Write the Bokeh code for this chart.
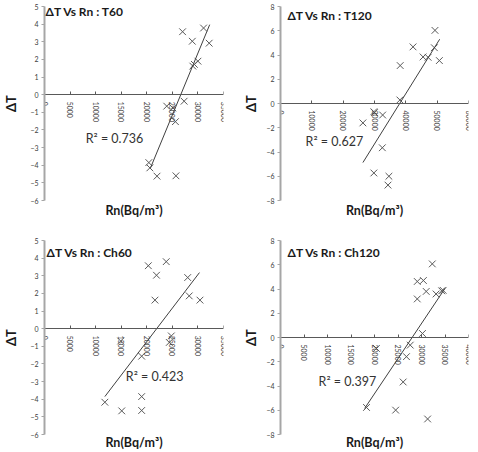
from bokeh.plotting import figure
from bokeh.layouts import column, row
from bokeh.models import Range1d, SingleIntervalTicker, FixedTicker, Label, LinearAxis
from bokeh.embed import file_html
from bokeh.resources import INLINE

# ---------------- data ----------------
t60_rn = [27000, 31100, 28900, 32200, 30000, 29000, 29300, 23900, 27300, 25100, 25600, 20400, 20600, 22000, 25700]
t60_dt = [3.57, 3.78, 3.03, 2.92, 1.90, 1.62, 1.72, -0.65, -0.37, -0.75, -1.53, -3.85, -4.15, -4.62, -4.60]
t60_trend_rn = [20700, 32300]
t60_trend_dt = [-4.17, 3.97]
t60_r2 = "R² = 0.736"

t120_rn = [49300, 42300, 49100, 45500, 47100, 50700, 38200, 38100, 29800, 30000, 32600, 26300, 32500, 29800, 34600, 34300]
t120_dt = [6.03, 4.67, 4.60, 3.84, 3.81, 3.54, 3.13, 0.29, -0.68, -0.75, -0.95, -1.60, -3.65, -5.73, -6.00, -6.73]
t120_trend_rn = [26300, 50800]
t120_trend_dt = [-4.87, 5.30]
t120_r2 = "R² = 0.627"

ch60_rn = [20300, 23800, 21900, 28000, 28300, 30400, 21600, 24400, 24800, 14900, 19000, 11800, 19000, 15100, 19000]
ch60_dt = [3.57, 3.80, 3.03, 2.90, 1.86, 1.62, 1.62, -0.78, -0.41, -0.70, -1.56, -4.17, -3.85, -4.66, -4.64]
ch60_trend_rn = [11800, 30300]
ch60_trend_dt = [-3.85, 3.18]
ch60_r2 = "R² = 0.423"

ch120_rn = [32300, 29100, 30400, 31000, 29100, 33100, 34600, 34300, 30200, 20400, 27600, 26800, 26100, 18300, 24500, 31300]
ch120_dt = [6.07, 4.62, 4.70, 3.80, 3.18, 3.59, 3.89, 3.85, 0.33, -0.90, -0.63, -1.58, -3.67, -5.77, -5.99, -6.72]
ch120_trend_rn = [17900, 35000]
ch120_trend_dt = [-5.85, 4.05]
ch120_r2 = "R² = 0.397"

titles = ["ΔT Vs Rn : T60", "ΔT Vs Rn : T120", "ΔT Vs Rn : Ch60", "ΔT Vs Rn : Ch120"]
x_label = "Rn(Bq/m³)"
y_label = "ΔT"

FONT = "Lato"
TICK_COL = "#404040"


def panel(rn, dt, trn, tdt, r2, title, xmax, xstep, ymin, ymax, ystep,
          width, height, bl, br, bt, bb, title_pos, r2_pos, ylab_standoff, xlab_standoff):
    p = figure(width=width, height=height,
               x_range=Range1d(0, xmax), y_range=Range1d(ymin, ymax),
               output_backend="svg", toolbar_location=None,
               min_border_left=bl, min_border_right=br,
               min_border_top=bt, min_border_bottom=bb)
    p.grid.visible = False
    p.outline_line_color = None
    p.background_fill_color = "white"
    p.border_fill_color = "white"

    # x axis crossing at y = 0
    xa = p.xaxis[0]
    xa.fixed_location = 0
    xa.ticker = SingleIntervalTicker(interval=xstep)
    xa.axis_line_color = "#595959"
    xa.axis_line_width = 1
    xa.major_tick_in = 3
    xa.major_tick_out = 0
    xa.major_tick_line_color = "#595959"
    xa.minor_tick_line_color = None
    xa.major_label_orientation = "vertical"
    xa.major_label_text_font = FONT
    xa.major_label_text_font_size = "7px"
    xa.major_label_text_color = TICK_COL
    xa.major_label_standoff = 3

    # y axis
    ya = p.yaxis[0]
    ya.ticker = SingleIntervalTicker(interval=ystep)
    ya.axis_line_color = "#A6A6A6"
    ya.axis_line_width = 2
    ya.major_tick_in = 0
    ya.major_tick_out = 3
    ya.major_tick_line_color = "#A6A6A6"
    ya.minor_tick_line_color = None
    ya.major_label_text_font = FONT
    ya.major_label_text_font_size = "7px"
    ya.major_label_text_color = TICK_COL
    ya.major_label_standoff = 2
    ya.axis_label = y_label
    ya.axis_label_text_font = FONT
    ya.axis_label_text_font_style = "bold"
    ya.axis_label_text_font_size = "13px"
    ya.axis_label_text_color = "#1a1a1a"
    ya.axis_label_standoff = ylab_standoff

    # bottom axis only carrying the x title
    lab = LinearAxis(ticker=FixedTicker(ticks=[]), axis_label=x_label,
                     axis_line_color=None, major_tick_line_color=None,
                     minor_tick_line_color=None, major_tick_out=0, minor_tick_out=0,
                     major_label_text_font_size="0px")
    lab.axis_label_text_font = FONT
    lab.axis_label_text_font_style = "bold"
    lab.axis_label_text_font_size = "12.5px"
    lab.axis_label_text_color = "#1a1a1a"
    lab.axis_label_standoff = xlab_standoff
    p.add_layout(lab, "below")

    p.scatter(rn, dt, marker="x", size=9.5, line_color="#595959", line_width=1)
    p.line(trn, tdt, line_color="#404040", line_width=1)

    p.add_layout(Label(x=title_pos[0], y=title_pos[1], text=title,
                       text_font=FONT, text_font_style="bold", text_font_size="12px",
                       text_baseline="middle", text_color="#1a1a1a"))
    p.add_layout(Label(x=r2_pos[0], y=r2_pos[1], text=r2,
                       text_font=FONT, text_font_size="12.5px",
                       text_baseline="middle", text_color="#333333"))
    return p


p1 = panel(t60_rn, t60_dt, t60_trend_rn, t60_trend_dt, t60_r2, titles[0],
           35000, 5000, -6, 5, 1, 239, 220, 35, 16, 6, 17,
           (200, 4.7), (8050, -2.46), 8, 2)
p2 = panel(t120_rn, t120_dt, t120_trend_rn, t120_trend_dt, t120_r2, titles[1],
           60000, 10000, -8, 8, 2, 239, 220, 41, 10, 6, 17,
           (2200, 7.24), (8000, -3.14), 4, 2)
p3 = panel(ch60_rn, ch60_dt, ch60_trend_rn, ch60_trend_dt, ch60_r2, titles[2],
           35000, 5000, -6, 5, 1, 239, 232, 35, 16, 20, 16,
           (400, 4.32), (15900, -2.72), 8, 0)
p4 = panel(ch120_rn, ch120_dt, ch120_trend_rn, ch120_trend_dt, ch120_r2, titles[3],
           40000, 5000, -8, 8, 2, 239, 232, 41, 10, 19, 16,
           (1500, 7.04), (8100, -3.65), 4, 0)

layout = column(row(p1, p2), row(p3, p4))
open("out.html", "w").write(file_html(layout, INLINE))
